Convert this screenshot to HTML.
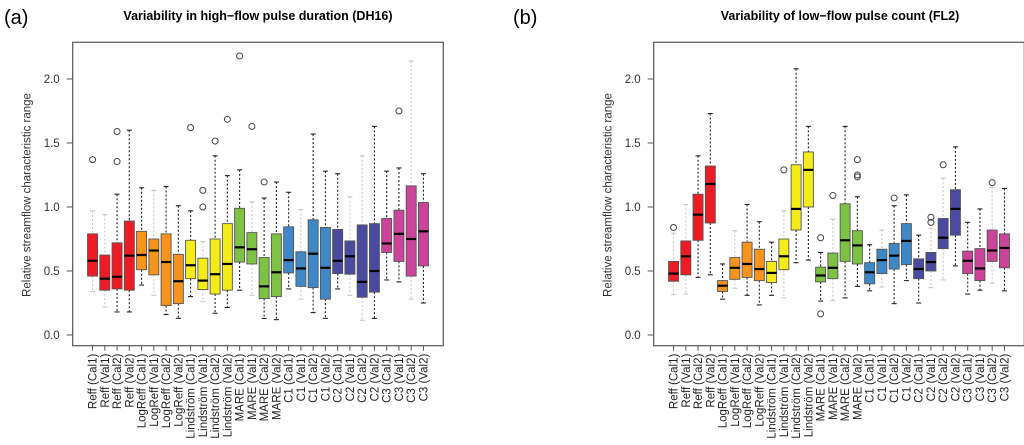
<!DOCTYPE html>
<html><head><meta charset="utf-8">
<style>
body{margin:0;background:#fff;}
svg{display:block;font-family:"Liberation Sans",Arial,sans-serif;}
</style></head>
<body>
<svg id="fig" width="1024" height="445" viewBox="0 0 1024 445">
<text x="4" y="24" font-size="20">(a)</text>
<text x="513" y="24" font-size="20">(b)</text>
<text x="258" y="20" font-size="12.5" font-weight="bold" text-anchor="middle">Variability in high−flow pulse duration (DH16)</text>
<text x="840" y="20" font-size="12.5" font-weight="bold" text-anchor="middle">Variability of low−flow pulse count (FL2)</text>
</svg>
<script>
const categories=["Reff (Cal1)","Reff (Val1)","Reff (Cal2)","Reff (Val2)","LogReff (Cal1)","LogReff (Val1)","LogReff (Cal2)","LogReff (Val2)","Lindström (Cal1)","Lindström (Val1)","Lindström (Cal2)","Lindström (Val2)","MARE (Cal1)","MARE (Val1)","MARE (Cal2)","MARE (Val2)","C1 (Cal1)","C1 (Val1)","C1 (Cal2)","C1 (Val2)","C2 (Cal1)","C2 (Val1)","C2 (Cal2)","C2 (Val2)","C3 (Cal1)","C3 (Val1)","C3 (Cal2)","C3 (Val2)"];
const yTicks=[0.0,0.5,1.0,1.5,2.0];
const groupColors=["#ed1c24","#f7941d","#f4ec19","#7dc242","#3f88c8","#4a4ba0","#cc4499"];
// panel a: [lo, q1, med, q3, hi]
const aLo=[0.34,0.22,0.18,0.18,0.39,0.31,0.16,0.13,0.30,0.26,0.17,0.215,0.35,0.31,0.13,0.12,0.36,0.28,0.175,0.13,0.36,0.31,0.115,0.13,0.43,0.415,0.28,0.25];
const aQ1=[0.46,0.35,0.36,0.35,0.51,0.47,0.23,0.245,0.44,0.355,0.32,0.35,0.57,0.555,0.285,0.30,0.485,0.38,0.37,0.28,0.48,0.475,0.295,0.335,0.645,0.575,0.46,0.54];
const aMed=[0.58,0.44,0.455,0.62,0.625,0.66,0.57,0.42,0.545,0.425,0.475,0.555,0.685,0.67,0.38,0.49,0.585,0.52,0.635,0.525,0.58,0.615,0.415,0.50,0.715,0.79,0.75,0.81];
const aQ3=[0.79,0.625,0.72,0.89,0.81,0.75,0.79,0.63,0.74,0.60,0.75,0.87,0.99,0.80,0.605,0.79,0.845,0.65,0.90,0.84,0.825,0.735,0.86,0.87,0.91,0.975,1.165,1.035];
const aHi=[0.97,0.94,1.10,1.60,1.15,1.13,1.16,1.01,0.97,0.73,1.40,1.245,1.29,1.04,1.07,1.195,1.115,0.98,1.57,1.28,1.26,1.08,1.40,1.63,1.28,1.305,2.14,1.26];
const aOut=[[1.37],[],[1.59,1.355],[],[],[],[],[],[1.62],[1.13,1.0],[1.515],[1.685],[2.18],[1.63],[1.195],[],[],[],[],[],[],[],[],[],[],[1.75],[],[]];
const aLight=[1,1,0,0,0,1,0,0,0,1,0,0,0,1,0,0,0,1,0,0,0,1,1,0,0,0,1,0];
// panel b
const bLo=[0.315,0.32,0.45,0.47,0.28,0.365,0.31,0.235,0.31,0.29,0.565,0.585,0.265,0.27,0.29,0.38,0.345,0.375,0.245,0.425,0.25,0.37,0.43,0.54,0.32,0.35,0.405,0.345];
const bQ1=[0.42,0.47,0.74,0.875,0.34,0.435,0.45,0.425,0.41,0.51,0.82,1.0,0.415,0.44,0.575,0.555,0.40,0.48,0.515,0.55,0.44,0.50,0.675,0.78,0.48,0.425,0.575,0.525];
const bMed=[0.48,0.615,0.94,1.18,0.385,0.525,0.555,0.515,0.485,0.615,0.985,1.29,0.465,0.525,0.74,0.70,0.49,0.585,0.62,0.735,0.515,0.57,0.76,0.985,0.58,0.52,0.66,0.68];
const bQ3=[0.575,0.735,1.10,1.32,0.425,0.605,0.725,0.67,0.575,0.75,1.33,1.43,0.53,0.64,1.025,0.815,0.565,0.67,0.715,0.87,0.595,0.645,0.91,1.135,0.655,0.675,0.82,0.79];
const bHi=[0.795,1.02,1.40,1.73,0.555,0.815,1.02,0.885,0.725,0.97,2.08,1.63,0.645,0.905,1.63,1.08,0.705,0.82,1.01,1.095,0.78,0.835,1.225,1.47,0.88,0.985,1.155,1.145];
const bOut=[[0.84],[],[],[],[],[],[],[],[],[1.29],[],[],[0.76,0.165],[1.09],[],[1.37,1.25,1.235],[],[],[1.07],[],[],[0.92,0.88],[1.33],[],[],[],[1.19],[]];
const bLight=[1,1,0,0,0,1,0,0,0,1,0,0,0,1,0,0,0,1,0,0,0,1,1,0,0,0,1,0];

const NS="http://www.w3.org/2000/svg";
const svg=document.getElementById('fig');
function mk(tag,attrs,parent){const e=document.createElementNS(NS,tag);for(const k in attrs)e.setAttribute(k,attrs[k]);(parent||svg).appendChild(e);return e;}

function panel(px,lo,q1,med,q3,hi,out,light,tag){
  const fL=px,fR=px+370.6,fT=42.3,fB=345.7;
  const step=370.6/(28*1.08);
  const xS=i=>fL+step*(0.5+0.04*28)+ (i)*step - step*0.5 + step*0.5 - step*0.5 + step*0.5;
  const x=i=>fL+370.6*0.5/28/1.08*0+ (fL? 0:0) + step*(i+1-0.5+0.5) + (370.6-step*28)/2 - step*0.5;
  const yS=v=>335-128*v;
  const g=mk('g',{});
  
  
  const fr=mk('rect',{x:fL,y:fT,width:fR-fL,height:fB-fT,fill:'none',stroke:'#555','stroke-width':1.2},g);
  
  
  // y axis
  yTicks.forEach(t=>{
    const y=yS(t);
    mk('line',{x1:fL-6,x2:fL,y1:y,y2:y,stroke:'#555'},g);
    const tx=mk('text',{x:fL-13,y:y+4,'font-size':11.5,'text-anchor':'end',fill:'#333'},g);
    tx.textContent=t.toFixed(1);
    
    
  });
  const yl=mk('text',{x:0,y:0,'font-size':11.5,'text-anchor':'middle',fill:'#333',transform:`translate(${fL-42},195) rotate(-90)`},g);
  yl.textContent='Relative streamflow characteristic range';
  
  
  categories.forEach((c,i)=>{
    const cx=x(i);
    const col=groupColors[Math.floor(i/4)];
    const wc=light[i]?'#c8c8c8':'#222';
    const bg=mk('g',{},g);
    
    
    mk('line',{x1:cx,x2:cx,y1:yS(hi[i]),y2:yS(q3[i]),stroke:wc,'stroke-dasharray':'2,2','stroke-width':1.1},bg);
    mk('line',{x1:cx,x2:cx,y1:yS(q1[i]),y2:yS(lo[i]),stroke:wc,'stroke-dasharray':'2,2','stroke-width':1.1},bg);
    mk('line',{x1:cx-2.5,x2:cx+2.5,y1:yS(hi[i]),y2:yS(hi[i]),stroke:wc,'stroke-width':1.1},bg);
    mk('line',{x1:cx-2.5,x2:cx+2.5,y1:yS(lo[i]),y2:yS(lo[i]),stroke:wc,'stroke-width':1.1},bg);
    mk('rect',{x:cx-5,y:yS(q3[i]),width:10,height:yS(q1[i])-yS(q3[i]),fill:col,stroke:'#555','stroke-width':0.9},bg);
    mk('line',{x1:cx-5,x2:cx+5,y1:yS(med[i]),y2:yS(med[i]),stroke:'#000','stroke-width':2.2},bg);
    out[i].forEach(o=>mk('circle',{cx:cx,cy:yS(o),r:3,fill:'none',stroke:'#444','stroke-width':1},bg));
    mk('line',{x1:cx,x2:cx,y1:fB,y2:fB+5,stroke:'#555'},g);
    const lt=mk('text',{x:0,y:0,'font-size':11.5,'text-anchor':'end',fill:'#222',transform:`translate(${cx+4},${fB+8}) rotate(-90)`},g);
    lt.textContent=c;
    
    
  });
}
panel(72.7,aLo,aQ1,aMed,aQ3,aHi,aOut,aLight,'panel-a');
panel(653.7,bLo,bQ1,bMed,bQ3,bHi,bOut,bLight,'panel-b');
</script>
</body></html>
